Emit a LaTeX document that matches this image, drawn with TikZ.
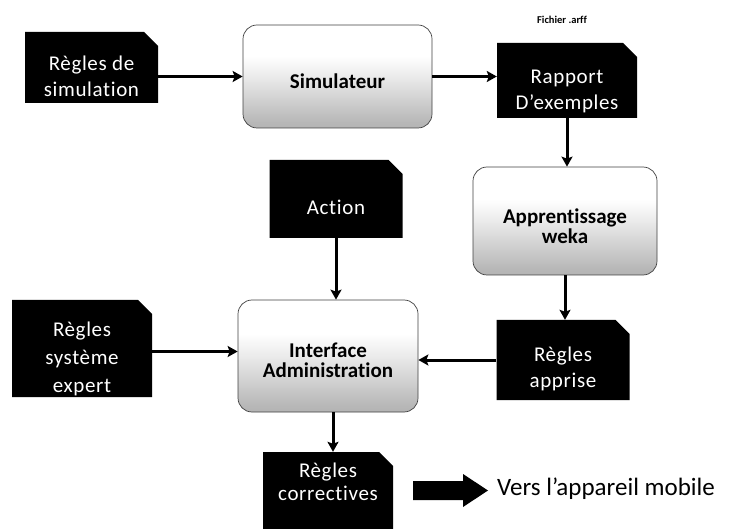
\documentclass[tikz,border=0pt]{standalone}
\usepackage{fontspec}
\setmainfont{Carlito}[Ligatures={TeX,NoCommon}]
\newfontfamily\lightspaced{Carlito}[LetterSpace=3, Ligatures={TeX,NoCommon}]
\usetikzlibrary{arrows.meta}

% white top half fading into a grey bottom
\pgfdeclareverticalshading{softgrey}{100bp}{%
  color(0bp)=(black!42); color(28bp)=(black!28); color(50bp)=(black!8);
  color(60bp)=(white); color(100bp)=(white)}

\begin{document}
\begin{tikzpicture}[x=1pt,y=-1pt,
  darkbox/.style={inner sep=0pt,
    path picture={\fill[black]
      (path picture bounding box.south west)
      |- ([xshift=-14pt]path picture bounding box.north east)
      -- ([yshift=-14pt]path picture bounding box.north east)
      |- cycle;}},
  dtext/.style={text=white, align=center, inner sep=0pt,
    font=\lightspaced\fontsize{21}{26}\selectfont},
  roundbox/.style={draw=black!75, line width=0.7pt, rounded corners=14pt,
    inner sep=0pt, shading=softgrey},
  rtext/.style={align=center, inner sep=0pt,
    font=\bfseries\fontsize{21}{20}\selectfont},
  conn/.style={line width=3pt, -{Stealth[length=10pt,width=11pt,inset=2pt]}}
]
\useasboundingbox (0,0) rectangle (731,529);

% black data blocks
\node[darkbox, minimum width=133pt, minimum height=71pt,
      label={[dtext, yshift=-9pt]center:{Règles de\\simulation}}] (rs) at (91.5,67.5) {};
\node[darkbox, minimum width=140pt, minimum height=75pt,
      label={[dtext, yshift=-11pt]center:{Rapport\\D’exemples}}] (rap) at (567,80.5) {};
\node[darkbox, minimum width=133pt, minimum height=78pt,
      label={[dtext, yshift=-8pt]center:{Action}}] (act) at (336,199) {};
\node[darkbox, minimum width=140pt, minimum height=97pt,
      label={[dtext, yshift=-10pt, font=\lightspaced\fontsize{21}{28}\selectfont]center:{Règles\\système\\expert}}] (rse) at (82,348.5) {};
\node[darkbox, minimum width=133pt, minimum height=80pt,
      label={[dtext, yshift=-9pt]center:{Règles\\apprise}}] (rap2) at (563,360) {};
\node[darkbox, minimum width=130pt, minimum height=78pt,
      label={[dtext, yshift=9pt, font=\lightspaced\fontsize{21}{23}\selectfont]center:{Règles\\correctives}}] (rc) at (328,491) {};

% processing blocks
\node[roundbox, minimum width=189pt, minimum height=103pt,
      label={[rtext, yshift=-5pt]center:{Simulateur}}] (sim) at (337.5,76.5) {};
\node[roundbox, minimum width=184pt, minimum height=108pt,
      label={[rtext, yshift=-5pt]center:{Apprentissage\\weka}}] (app) at (565,221) {};
\node[roundbox, minimum width=180pt, minimum height=112pt,
      label={[rtext, yshift=-4pt]center:{Interface\\Administration}}] (ifc) at (328,356) {};

% labels
\node[font=\bfseries\fontsize{10.5}{12}\selectfont] (arff) at (562,20) {Fichier .arff};
\node[anchor=west, font=\fontsize{25}{28}\selectfont, inner sep=0pt] (mob) at (497,489) {Vers l’appareil mobile};

% block arrow towards the mobile device
\coordinate (bigtail) at (413,490.5);
\coordinate (bigtip) at (488,490.5);
\fill[black] (bigtail) ++(0,-9.5) -- ++(50,0) -- ++(0,-7) -- (bigtip)
  -- ++(-25,16.5) -- ++(0,-7) -- ++(-50,0) -- cycle;

% connectors
\draw[conn] (rs.east |- sim.west) -- (sim.west);
\draw[conn] (sim.east) -- (sim.east -| rap.west);
\draw[conn] (rap.south) -- (rap.south |- app.north);
\draw[conn] (app.south) -- (app.south |- rap2.north);
\draw[conn] ([yshift=-3pt]rse.east) -- ([yshift=-3pt]rse.east -| ifc.west);
\draw[conn] (rap2.west) -- (rap2.west -| ifc.east);
\draw[conn] (act.south) -- (act.south |- ifc.north);
\draw[conn] ([xshift=5pt]ifc.south) -- ([xshift=5pt]ifc.south |- rc.north);
\end{tikzpicture}
\end{document}
